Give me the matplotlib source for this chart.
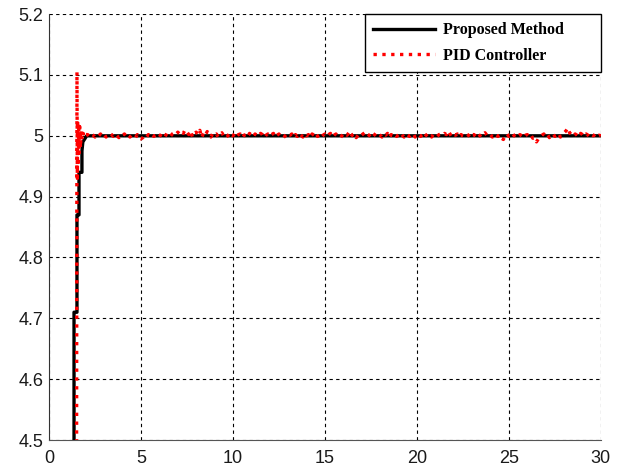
import numpy as np
import matplotlib.pyplot as plt

# --- 数据 ---
# Proposed Method: 阶梯式上升后稳定在 5
t_prop = [0.0, 1.36, 1.36, 1.52, 1.52, 1.63, 1.63, 1.79, 1.79, 1.84, 2.05, 30.0]
y_prop = [0.0, 0.0, 4.71, 4.71, 4.87, 4.87, 4.94, 4.94, 4.975, 4.99, 5.0, 5.0]

# PID Controller: 起始瞬态
t_pid_start = [0.0, 1.50, 1.52, 1.54, 1.56, 1.58, 1.61, 1.64, 1.67, 1.71, 1.75, 1.80, 1.86, 1.93, 2.0]
y_pid_start = [0.0, 4.50, 5.105, 4.93, 5.025, 4.95, 5.02, 4.97, 5.015, 4.98, 5.008, 4.993, 5.004, 4.998, 5.002]

# PID 稳态噪声 (单位 0.001, 每 0.1 s 一个点, t = 2.1 ... 30)
pid_noise = [
    2, -1, 3, 1, -2, 2, 0, 3, -1, 2,
    -2, 1, 4, 2, -1, 3, 0, -3, 2, 1,
    3, -1, 2, -2, 1, 0, -3, 2, -4, -5,
    -3, 1, -2, 2, 0, 3, -1, 2, 1, -2,
    3, 1, -2, 4, 2, -1, 3, 5, 2, 6,
    3, 7, 4, 10, 6, 2, 8, -2, 4, 6,
    2, 9, -3, 5, 1, 7, 3, -2, 4, 1,
    3, -2, 2, 5, -1, 3, 1, -3, 2, 0,
    4, -1, 2, 3, -3, 1, 2, -2, 4, 1,
    -2, 3, 1, -1, 4, 2, -3, 1, 3, -1,
    2, 4, -2, 1, 3, -1, 2, 0, -3, 2,
    1, 3, -2, 2, -1, 4, 1, -2, 3, 0,
    2, -3, 3, 1, 5, -1, 2, -2, 1, 3,
    -1, 2, 4, -2, 1, 3, -1, 2, 0, -2,
    3, 1, 5, -2, 2, 4, -3, 1, 3, 6,
    2, -1, 3, 1, -2, 4, 2, -1, 3, 1,
    -2, 3, 1, 4, -3, 2, 0, 3, -1, 2,
    5, 1, -2, 3, 1, -1, 2, 4, -2, 1,
    3, -1, 2, -3, 1, 4, 2, -2, 3, 1,
    -1, 2, 3, 1, 4, 2, 8, 3, -2, 2,
    1, 3, -2, 2, 0, -1, 3, 1, -3, 2,
    2, -1, 4, 1, -2, 3, 5, 1, -1, 2,
    -2, 1, 3, -1, 2, -4, -6, 1, 3, -1,
    2, -2, 1, 3, -1, 2, 0, -3, 1, 2,
    -2, 1, -4, -3, -10, -5, -2, 1, 3, -1,
    2, -3, 1, 3, -1, 2, 4, -2, 1, 5,
    8, 13, 5, 2, -1, 3, 1, -2, 4, 2,
    -1, 3, 1, -2, 2, 0, 3, -1, 1, 0,
]

t_noise = 2.1 + 0.1 * np.arange(len(pid_noise))
t_pid = np.concatenate([t_pid_start, t_noise])
y_pid = np.concatenate([y_pid_start, 5.0 + np.array(pid_noise) / 1000.0])

x_ticks = [0, 5, 10, 15, 20, 25, 30]
y_ticks = [4.5, 4.6, 4.7, 4.8, 4.9, 5.0, 5.1, 5.2]
y_labels = ['4.5', '4.6', '4.7', '4.8', '4.9', '5', '5.1', '5.2']

# --- 绘图 ---
fig = plt.figure(figsize=(6.18, 4.68), dpi=100)
ax = fig.add_axes([0.0793, 0.0598, 0.893, 0.910])

ax.plot(t_prop, y_prop, color='black', linewidth=2.4,
        label='Proposed Method', zorder=3)
ax.plot(t_pid, y_pid, color='red', linestyle=':', linewidth=2.4,
        label='PID Controller', zorder=4)

ax.set_xlim(0, 30)
ax.set_ylim(4.5, 5.2)
ax.set_xticks(x_ticks)
ax.set_yticks(y_ticks)
ax.set_yticklabels(y_labels)
ax.tick_params(length=0, labelsize=13, labelcolor='#1a1a1a')
ax.tick_params(axis='y', pad=4)
ax.tick_params(axis='x', pad=7)
for lab in ax.get_xticklabels() + ax.get_yticklabels():
    lab.set_family('Liberation Sans')

ax.grid(True, color='black', linestyle=(0, (3, 3)), linewidth=0.8)
ax.spines['top'].set_visible(False)
ax.spines['right'].set_visible(False)
ax.spines['left'].set_color('#333333')
ax.spines['bottom'].set_color('#555555')

# 图例: 右侧留白 (MATLAB 风格)
leg = ax.legend(loc='upper left', bbox_to_anchor=(0.5725, 0.0, 0.4275, 1.0),
                mode='expand', borderaxespad=0, fancybox=False,
                edgecolor='black', framealpha=1, handlelength=3.9,
                handletextpad=0.5, borderpad=0.5, labelspacing=0.6,
                prop={'family': 'Liberation Serif', 'weight': 'bold', 'size': 11.5})
leg.get_frame().set_linewidth(1.0)

fig.savefig('out.png', dpi=100)
